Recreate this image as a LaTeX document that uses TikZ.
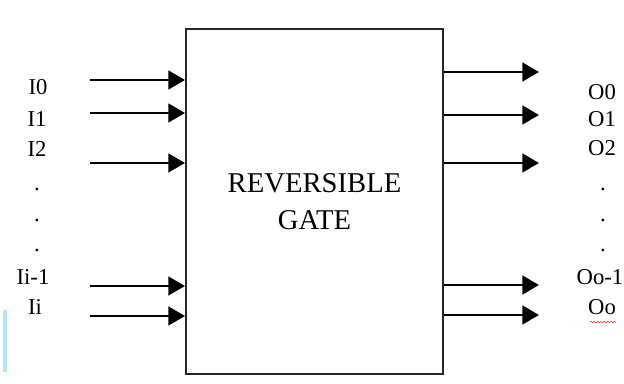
\documentclass[tikz,border=0pt]{standalone}
\usepackage{fontspec}
\setmainfont{Liberation Serif}
\usetikzlibrary{arrows.meta,decorations.pathmorphing}
\tikzset{
  gatebox/.style={draw=black!85, line width=1.5pt, fill=white, minimum width=192.75pt, minimum height=258.75pt, inner sep=0pt, align=center, font=\fontsize{21.5}{27.75}\selectfont},
  sig/.style={line width=2pt, -{Triangle[length=12.5pt,width=14pt]}},
  lbl/.style={inner sep=0pt, font=\fontsize{17}{18}\selectfont},
  dotlbl/.style={inner sep=0pt, anchor=base, font=\fontsize{17}{18}\selectfont}
}
\begin{document}
\begin{tikzpicture}[x=0.75pt, y=-0.75pt]
\useasboundingbox (0,0) rectangle (624,383);
\fill[white] (0,0) rectangle (624,383);
\fill[cyan!30] (3,310) rectangle (7,372);
% gate
\node[gatebox] (gate) at (314.5,201.5) {REVERSIBLE\\GATE};
% input arrow starts
\coordinate (i0) at (90,80);
\coordinate (i1) at (90,113);
\coordinate (i2) at (90,163);
\coordinate (ia) at (90,286);
\coordinate (ib) at (90,316);
\foreach \c in {i0,i1,i2,ia,ib}
  \draw[sig] (\c) -- (\c -| gate.west);
% output arrow tips
\coordinate (o0) at (539,72);
\coordinate (o1) at (539,115);
\coordinate (o2) at (539,163);
\coordinate (oa) at (539,285);
\coordinate (ob) at (539,315);
\foreach \c in {o0,o1,o2,oa,ob}
  \draw[sig] (\c -| gate.east) -- (\c);
% input labels
\node[lbl] (l0) at (38,87) {I0};
\node[lbl] (l1) at (37,119) {I1};
\node[lbl] (l2) at (37,149) {I2};
\node[dotlbl] (ld1) at (37,190) {.};
\node[dotlbl] (ld2) at (37,221) {.};
\node[dotlbl] (ld3) at (37,251) {.};
\node[lbl] (la) at (33,277) {Ii-1};
\node[lbl] (lb) at (35,307) {Ii};
% output labels
\node[lbl] (r0) at (602,92) {O0};
\node[lbl] (r1) at (602,119) {O1};
\node[lbl] (r2) at (602,148) {O2};
\node[dotlbl] (rd1) at (603,190) {.};
\node[dotlbl] (rd2) at (603,221) {.};
\node[dotlbl] (rd3) at (603,251) {.};
\node[lbl, anchor=east] (ra) at (623.5,277) {Oo-1};
\node[lbl] (rb) at (602,307) {Oo};
\draw[red!70, line width=0.5pt, decorate, decoration={snake, amplitude=0.6pt, segment length=2.5pt}] (590,322) -- (616,322);
\end{tikzpicture}
\end{document}
